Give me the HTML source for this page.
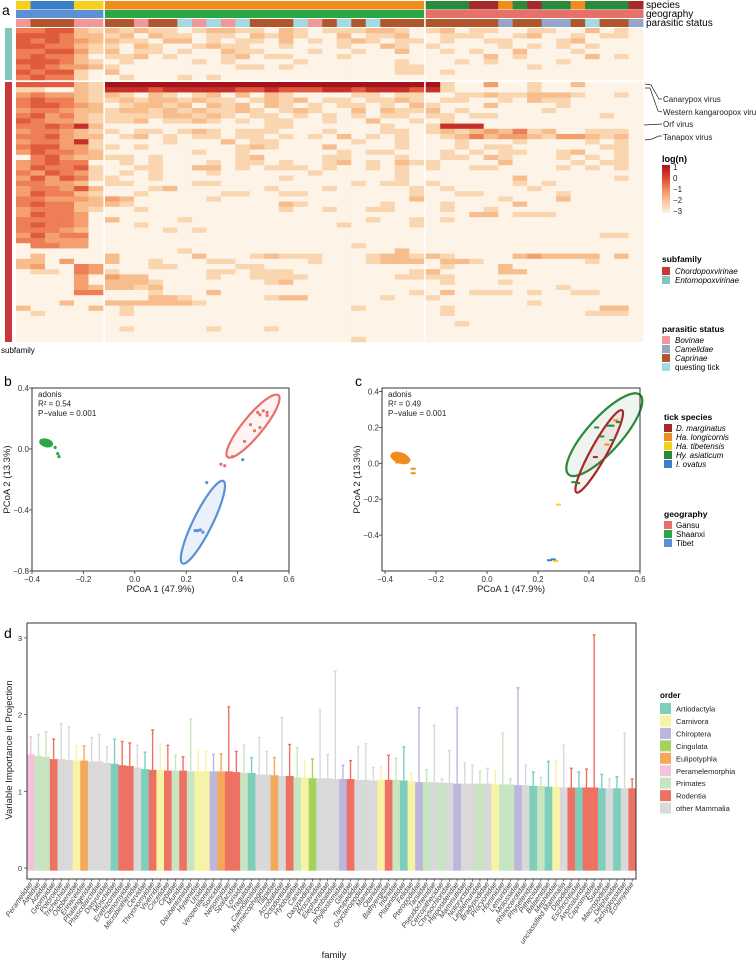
<!DOCTYPE html>
<html><head><meta charset="utf-8">
<style>
html,body{margin:0;padding:0;background:#fff;}
svg{display:block;font-family:"Liberation Sans",sans-serif;}
</style></head>
<body>
<svg id="fig" width="756" height="962" viewBox="0 0 756 962" xmlns="http://www.w3.org/2000/svg">
<rect x="0" y="0" width="756" height="962" fill="#fff"/>
<text x="2" y="15" font-size="14" fill="#000">a</text>
<text x="4" y="386" font-size="14" fill="#000">b</text>
<text x="355" y="386" font-size="14" fill="#000">c</text>
<text x="4" y="638" font-size="14" fill="#000">d</text>
<g id="heat"></g>
<g id="pb"></g>
<g id="pc"></g>
<g id="pd"></g>

<text x="646" y="8" font-size="10">species</text>
<text x="646" y="17" font-size="10">geography</text>
<text x="646" y="26" font-size="10">parasitic status</text>
<text x="1" y="353" font-size="8">subfamily</text>
<g fill="none" stroke="#222" stroke-width="0.7">
<polyline points="645,84 651,85 659,99 662,99"/>
<polyline points="645,88 650,88 658,111 662,112"/>
<polyline points="644,125 662,124"/>
<polyline points="645,140 652,139 659,136 662,136"/>
</g>
<g font-size="8" fill="#222">
<text x="663" y="102">Canarypox virus</text>
<text x="663" y="115">Western kangaroopox virus</text>
<text x="663" y="127">Orf virus</text>
<text x="663" y="140">Tanapox virus</text>
</g>
<defs><linearGradient id="lg" x1="0" y1="0" x2="0" y2="1">
<stop offset="0" stop-color="#a5141b"/><stop offset="0.25" stop-color="#d9422e"/><stop offset="0.5" stop-color="#f28a5a"/><stop offset="0.75" stop-color="#f8c494"/><stop offset="1" stop-color="#fdf0e2"/></linearGradient></defs>
<text x="662" y="162" font-size="9" font-weight="bold">log(n)</text>
<rect x="662" y="165" width="8" height="48" fill="url(#lg)"/>
<g font-size="8" fill="#222">
<text x="673" y="170">1</text>
<text x="673" y="181">0</text>
<text x="673" y="192">−1</text>
<text x="673" y="203">−2</text>
<text x="673" y="214">−3</text>
</g>
<text x="662" y="262" font-size="8.5" font-weight="bold">subfamily</text>
<rect x="662" y="267" width="8" height="8" fill="#c8373a"/>
<text x="675" y="274" font-size="8" font-style="italic">Chordopoxvirinae</text>
<rect x="662" y="276" width="8" height="8" fill="#7fc7bd"/>
<text x="675" y="283" font-size="8" font-style="italic">Entomopoxvirinae</text>
<text x="662" y="332" font-size="8.5" font-weight="bold">parasitic status</text>
<rect x="662" y="336" width="8" height="8" fill="#f0979a"/>
<text x="675" y="343" font-size="8" font-style="italic">Bovinae</text>
<rect x="662" y="345" width="8" height="8" fill="#94a6c8"/>
<text x="675" y="352" font-size="8" font-style="italic">Camelidae</text>
<rect x="662" y="354" width="8" height="8" fill="#b0562a"/>
<text x="675" y="361" font-size="8" font-style="italic">Caprinae</text>
<rect x="662" y="363" width="8" height="8" fill="#a3dbe3"/>
<text x="675" y="370" font-size="8">questing tick</text>
<text x="664" y="420" font-size="8.5" font-weight="bold">tick species</text>
<g font-size="8" font-style="italic">
<rect x="664" y="424" width="8" height="8" fill="#a52a2a"/>
<text x="676" y="431">D. marginatus</text>
<rect x="664" y="433" width="8" height="8" fill="#f08c1c"/>
<text x="676" y="440">Ha. longicornis</text>
<rect x="664" y="442" width="8" height="8" fill="#f5d11c"/>
<text x="676" y="449">Ha. tibetensis</text>
<rect x="664" y="451" width="8" height="8" fill="#2a8a3a"/>
<text x="676" y="458">Hy. asiaticum</text>
<rect x="664" y="460" width="8" height="8" fill="#3a7fc8"/>
<text x="676" y="467">I. ovatus</text>
</g>
<text x="664" y="517" font-size="8.5" font-weight="bold">geography</text>
<g font-size="8">
<rect x="664" y="521" width="8" height="8" fill="#e8706a"/>
<text x="676" y="528">Gansu</text>
<rect x="664" y="530" width="8" height="8" fill="#2aa845"/>
<text x="676" y="537">Shaanxi</text>
<rect x="664" y="539" width="8" height="8" fill="#5b8fd6"/>
<text x="676" y="546">Tibet</text>
</g>
<text x="660" y="698" font-size="8" font-weight="bold">order</text>
<g id="orderLegend" font-size="7.5" fill="#222"></g>
</svg>
<script>
const heatRows = [
"445521212110122110210111221012011001100201","555422120211011021210020112001110012001011","545432211022010110201012101101001100012000",
"554421102100121100100010021010000101010100","445531201101002110001001002001010020001000","454420112010001201100010000000002010000201",
"555421010000101000010000001000101000010000","454332100000000110100000001100000001000000","545510200000000000000000001101000000000000",
"454410010001010000000000000000000000000000",
"555521777777777777777777777771003001002000","110021666566666556555665666561000001000000","343321210210120202100001101100112112221001",
"454421121221211012120110112101100102110000","455432012212021202101011010210002000010000","344322122121211210121002021120100000100000",
"453421111122121011010101011011011000000010","543321112011210101100100200101000000000000","445462000000000001100000010016660000000000",
"344321101101210111000100011012123241200111","445322012010110110101020101001242332133212","344361000010002011000001001000100010000101",
"455331101000000121000200001000101100000011","354432000000100100000010110001010110012001","045322110100000120000110001001102100010101",
"345440010100010110100120102110000200001011","354451001100220101110100101010011000010101","435431010100010000001000001000000000000000",
"353541100100000000100000001000000020000001","443320110000110000000001011010000010100000","344352000120000001000100000101000001000000",
"354421001000001100110000000100110000010000","443332320000010000000000000200000100020000","454422210000000000210000010001000020000000",
"344421001000000000100100110001001000000000","354430000000000000000000000000022011100000","444430200001000000000000100101000000000000",
"454430001000000000000010000100000000000000","444320000010100000000000000000000000000000","353440000000000000000000000000000000000011",
"443330000000000000000000000000000000000000","044330000000000000000001000000000000000000","000000000001000000000000002000000000000000",
"020000200000200012111000122121000023222202","220300200100011000001000122202210000000100","230043000110000110000000000001000200000000",
"011043100000011011100000000120000220000000","000030322000010011110000001111000000000000","000030222100000001200000000001000100000000",
"000032221200000000000000000000000000010000","000044000100020000000000000102011101001100","000000000221000001220000010010000000000000",
"000200222222100000000000000000000001000000","200002010000000000000001000001000000000022","010000010000000000000000000001000000000111",
"000000000000000000000000000000000000000000","000000000000000000000000000000100000000000","000000010000010001000000000000000000000000",
"000000000000000000000000000000000000000000","000000000000000000000001000000000000000000"];
const speciesCols = ["Ha. tibetensis","I. ovatus","I. ovatus","I. ovatus","Ha. tibetensis","Ha. tibetensis",
"Ha. longicornis","Ha. longicornis","Ha. longicornis","Ha. longicornis","Ha. longicornis","Ha. longicornis","Ha. longicornis","Ha. longicornis","Ha. longicornis","Ha. longicornis","Ha. longicornis","Ha. longicornis","Ha. longicornis","Ha. longicornis","Ha. longicornis","Ha. longicornis","Ha. longicornis","Ha. longicornis","Ha. longicornis","Ha. longicornis","Ha. longicornis","Ha. longicornis",
"Hy. asiaticum","Hy. asiaticum","Hy. asiaticum","D. marginatus","D. marginatus","Ha. longicornis","Hy. asiaticum","D. marginatus","Hy. asiaticum","Hy. asiaticum","Ha. longicornis","Hy. asiaticum","Hy. asiaticum","Hy. asiaticum","D. marginatus"];
const geographyCols = ["Tibet","Tibet","Tibet","Tibet","Tibet","Tibet",
"Shaanxi","Shaanxi","Shaanxi","Shaanxi","Shaanxi","Shaanxi","Shaanxi","Shaanxi","Shaanxi","Shaanxi","Shaanxi","Shaanxi","Shaanxi","Shaanxi","Shaanxi","Shaanxi","Shaanxi","Shaanxi","Shaanxi","Shaanxi","Shaanxi","Shaanxi",
"Gansu","Gansu","Gansu","Gansu","Gansu","Gansu","Gansu","Gansu","Gansu","Gansu","Gansu","Gansu","Gansu","Gansu","Gansu"];
const statusCols = ["Bovinae","Caprinae","Caprinae","Caprinae","Bovinae","Bovinae",
"Caprinae","Caprinae","Bovinae","Caprinae","Caprinae","questing tick","Bovinae","questing tick","Bovinae","questing tick","Caprinae","Caprinae","Caprinae","questing tick","Bovinae","Caprinae","questing tick","Caprinae","questing tick","Caprinae","Caprinae","Caprinae",
"Caprinae","Caprinae","Caprinae","Caprinae","Caprinae","Camelidae","Caprinae","Caprinae","Camelidae","Camelidae","Caprinae","questing tick","Caprinae","Caprinae","Camelidae"];
const subfamilyRows = ["Entomopoxvirinae","Chordopoxvirinae"];

const bGreenX = [-0.36,-0.355,-0.35,-0.345,-0.34,-0.335,-0.33,-0.35,-0.34,-0.36,-0.31,-0.30,-0.295];
const bGreenY = [0.055,0.045,0.05,0.035,0.045,0.03,0.04,0.025,0.02,0.04,0.01,-0.03,-0.05];
const bRedX = [0.478,0.487,0.50,0.515,0.515,0.45,0.466,0.487,0.427,0.38,0.335,0.35];
const bRedY = [0.24,0.225,0.25,0.24,0.22,0.16,0.12,0.14,0.05,-0.05,-0.10,-0.11];
const bBlueX = [0.42,0.28,0.245,0.255,0.265,0.235];
const bBlueY = [-0.07,-0.22,-0.535,-0.53,-0.545,-0.535];
const bTicksX = [-0.4,-0.2,0.0,0.2,0.4,0.6];
const bTicksY = [0.4,0.0,-0.4,-0.8];

const cOrangeX = [-0.37,-0.36,-0.35,-0.345,-0.34,-0.33,-0.32,-0.31,-0.35,-0.29,-0.29,0.47,0.505];
const cOrangeY = [0.04,0.05,0.03,0.055,0.02,0.045,0.01,0.02,0.005,-0.03,-0.055,0.105,0.24];
const cGreenX = [0.43,0.45,0.48,0.49,0.515,0.49,0.34,0.355];
const cGreenY = [0.20,0.15,0.21,0.21,0.23,0.13,-0.105,-0.11];
const cRedX = [0.425];
const cRedY = [0.035];
const cYellowX = [0.28,0.27];
const cYellowY = [-0.23,-0.545];
const cBlueX = [0.245,0.26];
const cBlueY = [-0.54,-0.535];
const cTicksX = [-0.4,-0.2,0.0,0.2,0.4,0.6];
const cTicksY = [0.4,0.2,0.0,-0.2,-0.4];

const families = ["Peramelidae","Atelidae","Aotidae","Geomyidae","Potoroidae","Trichechidae","Odobenidae","Erinaceidae","Phalangeridae","Phascolarctidae",
"Dasyuridae","Moschidae","Erethizontidae","Ctenomyidae","Microbiotheriidae","Cervidae","Thryonomyidae","Viverridae","Cricetidae","Cebidae",
"Muridae","Daubentoniidae","Hyaenidae","Ursidae","Vespertilionidae","Soricidae","Nesomyidae","Spalacidae","Lorisidae","Tragulidae",
"Caenolestidae","Myrmecophagidae","Talpidae","Acrobatidae","Octodontidae","Hylobatidae","Canidae","Dasypodidae","Procaviidae","Elephantidae",
"Vombatidae","Phyllostomidae","Gliridae","Tarsipedidae","Orycteropodidae","Manidae","Otariidae","Bathyergidae","Indriidae","Platanistidae",
"Felidae","Pteropodidae","Tarsiidae","Pseudocheiridae","Cercopithecidae","Chrysochloridae","Hipposideridae","Mammutidae","Notoryctidae","Lepilemuridae",
"Bradypodidae","Procyonidae","Hominidae","Lemuridae","Molossidae","Rhinocerotidae","Physeteridae","Pitheciidae","Balaenidae","Mephitidae",
"unclassified Mammalia","Dipodidae","Eschrichtiidae","Anomaluridae","Capromyidae","Suidae","Macropodidae","Delphinidae","Tachyglossidae","Echimyidae"];
const vip = [1.48,1.46,1.45,1.42,1.42,1.41,1.40,1.40,1.39,1.39,1.37,1.36,1.34,1.33,1.31,1.29,1.28,1.28,1.27,1.27,
1.27,1.26,1.26,1.26,1.26,1.26,1.26,1.25,1.24,1.24,1.22,1.22,1.21,1.20,1.20,1.18,1.18,1.17,1.17,1.17,
1.16,1.16,1.16,1.15,1.15,1.14,1.15,1.15,1.15,1.14,1.13,1.12,1.12,1.12,1.11,1.11,1.10,1.10,1.10,1.10,
1.10,1.09,1.09,1.09,1.08,1.08,1.07,1.07,1.06,1.06,1.05,1.05,1.05,1.05,1.05,1.04,1.04,1.04,1.04,1.04];
const vipUpper = [1.71,1.74,1.78,1.68,1.88,1.84,1.59,1.59,1.70,1.74,1.58,1.68,1.65,1.63,1.60,1.51,1.80,1.62,1.60,1.47,
1.45,1.94,1.54,1.52,1.48,1.49,2.10,1.52,1.60,1.44,1.70,1.52,1.44,1.96,1.61,1.57,1.40,1.42,2.06,1.48,
2.57,1.34,1.40,1.58,1.62,1.31,1.32,1.47,1.43,1.58,1.24,2.09,1.28,1.86,1.16,1.53,2.09,1.37,1.34,1.26,
1.30,1.26,1.76,1.16,2.35,1.34,1.25,1.18,1.39,1.40,1.60,1.30,1.25,1.29,3.04,1.22,1.16,1.19,1.76,1.16];
const orders = ["Peramelemorphia","Primates","Primates","Rodentia","other Mammalia","other Mammalia","Carnivora","Eulipotyphla","other Mammalia","other Mammalia",
"other Mammalia","Artiodactyla","Rodentia","Rodentia","other Mammalia","Artiodactyla","Rodentia","Carnivora","Rodentia","Primates",
"Rodentia","Primates","Carnivora","Carnivora","Chiroptera","Eulipotyphla","Rodentia","Rodentia","Primates","Artiodactyla",
"other Mammalia","other Mammalia","Eulipotyphla","other Mammalia","Rodentia","Primates","Carnivora","Cingulata","other Mammalia","other Mammalia",
"other Mammalia","Chiroptera","Rodentia","other Mammalia","other Mammalia","other Mammalia","Carnivora","Rodentia","Primates","Artiodactyla",
"Carnivora","Chiroptera","Primates","other Mammalia","Primates","other Mammalia","Chiroptera","other Mammalia","other Mammalia","Primates",
"other Mammalia","Carnivora","Primates","Primates","Chiroptera","other Mammalia","Artiodactyla","Primates","Artiodactyla","Carnivora",
"other Mammalia","Rodentia","Artiodactyla","Rodentia","Rodentia","Artiodactyla","other Mammalia","Artiodactyla","other Mammalia","Rodentia"];
const orderNames = ["Artiodactyla","Carnivora","Chiroptera","Cingulata","Eulipotyphla","Peramelemorphia","Primates","Rodentia","other Mammalia"];
const dTicksY = [0,1,2,3];
</script>
<script>
const NS = "http://www.w3.org/2000/svg";
function mk(parent, tag, attrs, txt){
  const e = document.createElementNS(NS, tag);
  for (const k in attrs) e.setAttribute(k, attrs[k]);
  if (txt !== undefined) e.textContent = txt;
  parent.appendChild(e);
  return e;
}
const speciesColor = {"D. marginatus":"#a52a2a","Ha. longicornis":"#f08c1c","Ha. tibetensis":"#f5d11c","Hy. asiaticum":"#2a8a3a","I. ovatus":"#3a7fc8"};
const geoColor = {"Gansu":"#e8706a","Shaanxi":"#2aa845","Tibet":"#5b8fd6"};
const statusColor = {"Bovinae":"#f0979a","Camelidae":"#94a6c8","Caprinae":"#b0562a","questing tick":"#a3dbe3"};
const heatColor = ["#fdf3e7","#fad6b0","#f7bd8c","#f3a06e","#ee7e55","#e05a3d","#c6302a","#a5141b"];
const orderColor = {"Artiodactyla":"#7fcdbb","Carnivora":"#f7f3a6","Chiroptera":"#bcb6dc","Cingulata":"#a6d15a","Eulipotyphla":"#f4a95a","Peramelemorphia":"#f5c2dc","Primates":"#c7e5c0","Rodentia":"#ee7264","other Mammalia":"#d9d9d9"};

(function(){
  const g = document.getElementById("heat");
  const colW = 14.49, rowH = 5.2;
  const colX = c => 16 + c*colW + (c>=6?2:0) + (c>=28?2:0);
  const rowY = r => 28 + r*rowH + (r>=10?2:0);
  const nCol = speciesCols.length;
  for (let c=0;c<nCol;c++){
    const x = colX(c);
    const s = mk(g,"rect",{x:x,y:1,width:colW+0.4,height:8.5,fill:speciesColor[speciesCols[c]]});
    
    
    const ge = mk(g,"rect",{x:x,y:10,width:colW+0.4,height:8,fill:geoColor[geographyCols[c]]});
    
    
    const st = mk(g,"rect",{x:x,y:19,width:colW+0.4,height:8,fill:statusColor[statusCols[c]]});
    
    
  }
  for (let r=0;r<heatRows.length;r++){
    const row = heatRows[r];
    for (let c=0;c<nCol;c++){
      let v = parseInt(row.charAt(c), 10);
      if (isNaN(v) || v < 0 || v > 7) v = 0;
      const cell = mk(g,"rect",{x:colX(c),y:rowY(r),width:colW+0.4,height:rowH+0.3,fill:heatColor[v]});
      
      
    }
  }
  const sf1 = mk(g,"rect",{x:5,y:rowY(0),width:7,height:rowY(9)+rowH-rowY(0),fill:"#7fc7bd"});
  
  
  const sf2 = mk(g,"rect",{x:5,y:rowY(10),width:7,height:rowY(heatRows.length-1)+rowH-rowY(10),fill:"#c8373a"});
  
  
})();

function pcoa(gid, box, xr, yr, ticksX, ticksY, r2, series, ellipses, dash){
  const g = document.getElementById(gid);
  const sx = v => box.x0 + (v - xr[0])/(xr[1]-xr[0])*(box.x1-box.x0);
  const sy = v => box.y0 + (yr[1] - v)/(yr[1]-yr[0])*(box.y1-box.y0);
  for (const el of ellipses){
    const cx = sx(el.x), cy = sy(el.y);
    const e = mk(g,"ellipse",{cx:cx,cy:cy,rx:el.a,ry:el.b,transform:`rotate(${el.ang} ${cx} ${cy})`,fill:el.fill,stroke:el.stroke,"stroke-width":2.2});
    
    
  }
  for (const s of series){
    for (let i=0;i<s.xs.length;i++){
      let p;
      if (dash) p = mk(g,"rect",{x:sx(s.xs[i])-2.5,y:sy(s.ys[i])-1,width:5,height:2,fill:s.color});
      else p = mk(g,"circle",{cx:sx(s.xs[i]),cy:sy(s.ys[i]),r:1.6,fill:s.color});
      
      
    }
  }
  const fr = mk(g,"rect",{x:box.x0,y:box.y0,width:box.x1-box.x0,height:box.y1-box.y0,fill:"none",stroke:"#333","stroke-width":1});
  
  
  for (const t of ticksX){
    const x = sx(t);
    const tk = mk(g,"line",{x1:x,x2:x,y1:box.y1,y2:box.y1+3,stroke:"#333","stroke-width":0.8});
    
    
    const lb = mk(g,"text",{x:x,y:box.y1+11,"font-size":8,"text-anchor":"middle",fill:"#333"}, t.toFixed(1).replace("-","−"));
    
    
  }
  for (const t of ticksY){
    const y = sy(t);
    const tk = mk(g,"line",{x1:box.x0-3,x2:box.x0,y1:y,y2:y,stroke:"#333","stroke-width":0.8});
    
    
    const lb = mk(g,"text",{x:box.x0-3,y:y+3,"font-size":8,"text-anchor":"end",fill:"#333"}, t.toFixed(1).replace("-","−"));
    
    
  }
  const xt = mk(g,"text",{x:(box.x0+box.x1)/2,y:box.y1+21,"font-size":9.5,"text-anchor":"middle",fill:"#222"},"PCoA 1 (47.9%)");
  
  
  const yx = box.x0-22, yy = (box.y0+box.y1)/2;
  const yt = mk(g,"text",{x:yx,y:yy,"font-size":9.5,"text-anchor":"middle",fill:"#222",transform:`rotate(-90 ${yx} ${yy})`},"PCoA 2 (13.3%)");
  
  
  const a1 = mk(g,"text",{x:box.x0+6,y:box.y0+9,"font-size":8,fill:"#222"},"adonis");
  
  
  const a2 = mk(g,"text",{x:box.x0+6,y:box.y0+18.5,"font-size":8,fill:"#222"},"R² = "+r2);
  
  
  const a3 = mk(g,"text",{x:box.x0+6,y:box.y0+28,"font-size":8,fill:"#222"},"P−value = 0.001");
  
  
}
pcoa("pb",{x0:32,x1:289,y0:388,y1:571},[-0.4,0.6],[-0.8,0.4],bTicksX,bTicksY,"0.54",
  [{xs:bGreenX,ys:bGreenY,color:"#2aa845"},{xs:bRedX,ys:bRedY,color:"#e8706a"},{xs:bBlueX,ys:bBlueY,color:"#5b8fd6"}],
  [{x:0.46,y:0.15,a:40,b:10,ang:-50.6,fill:"rgba(232,112,106,0.08)",stroke:"#e8706a"},
   {x:0.265,y:-0.48,a:46,b:9.5,ang:-63.7,fill:"rgba(91,143,214,0.12)",stroke:"#5b8fd6"},
   {x:-0.345,y:0.04,a:6,b:3.2,ang:15,fill:"#2aa845",stroke:"#2aa845"}], false);
pcoa("pc",{x0:382,x1:640,y0:388,y1:571},[-0.412,0.6],[-0.6,0.42],cTicksX,cTicksY,"0.49",
  [{xs:cOrangeX,ys:cOrangeY,color:"#f08c1c"},{xs:cGreenX,ys:cGreenY,color:"#2a8a3a"},{xs:cRedX,ys:cRedY,color:"#a52a2a"},{xs:cYellowX,ys:cYellowY,color:"#f5d11c"},{xs:cBlueX,ys:cBlueY,color:"#3a7fc8"}],
  [{x:0.46,y:0.16,a:53.5,b:17,ang:-48,fill:"rgba(60,110,60,0.08)",stroke:"#2a8a3a"},
   {x:0.44,y:0.067,a:47,b:8,ang:-61,fill:"rgba(165,42,42,0.06)",stroke:"#a52a2a"},
   {x:-0.34,y:0.03,a:9,b:4.5,ang:20,fill:"#f08c1c",stroke:"#f08c1c"}], true);

(function(){
  const g = document.getElementById("pd");
  const x0 = 27, x1 = 636, y0 = 623, y1 = 879;
  const n = families.length, bw = (x1-x0)/n;
  const sy = v => 868 - v*76.7;
  const bx = i => x0 + i*bw;
  for (let i=0;i<n;i++){
    const col = orderColor[orders[i]];
    const cx = bx(i) + bw/2;
    const eb = mk(g,"line",{x1:cx,x2:cx,y1:sy(vip[i]),y2:sy(vipUpper[i]),stroke:col,"stroke-width":1.4});
    
    
    const cap = mk(g,"line",{x1:cx-1.5,x2:cx+1.5,y1:sy(vipUpper[i]),y2:sy(vipUpper[i]),stroke:col,"stroke-width":1.4});
    
    
    const b = mk(g,"rect",{x:bx(i),y:sy(vip[i]),width:bw+0.3,height:sy(-0.035)-sy(vip[i]),fill:col});
    
    
    const tk = mk(g,"line",{x1:cx,x2:cx,y1:y1,y2:y1+2.5,stroke:"#333","stroke-width":0.7});
    
    
    const lx = cx+2, ly = y1+5;
    const lb = mk(g,"text",{x:lx,y:ly,"font-size":7.3,"font-style":"italic","text-anchor":"end",fill:"#444",transform:`rotate(-55 ${lx} ${ly})`},families[i]);
    
    
  }
  const fr = mk(g,"rect",{x:x0,y:y0,width:x1-x0,height:y1-y0,fill:"none",stroke:"#333","stroke-width":1});
  
  
  for (const t of dTicksY){
    const y = sy(t);
    const tk = mk(g,"line",{x1:x0-3,x2:x0,y1:y,y2:y,stroke:"#333","stroke-width":0.7});
    
    
    const lb = mk(g,"text",{x:x0-5,y:y+3,"font-size":7.5,"text-anchor":"end",fill:"#333"},String(t));
    
    
  }
  const yt = mk(g,"text",{x:12,y:750,"font-size":9.5,"text-anchor":"middle",fill:"#222",transform:"rotate(-90 12 750)"},"Variable Importance in Projection");
  
  
  const xt = mk(g,"text",{x:334,y:958,"font-size":9.5,"text-anchor":"middle",fill:"#222"},"family");
  
  
  const lg = document.getElementById("orderLegend");
  for (let i=0;i<orderNames.length;i++){
    const y = 703 + i*12.45;
    const sw = mk(lg,"rect",{x:660,y:y,width:11,height:11,fill:orderColor[orderNames[i]]});
    
    
    const tx = mk(lg,"text",{x:676,y:y+8.5},orderNames[i]);
    
    
  }
})();
</script>
</body></html>
